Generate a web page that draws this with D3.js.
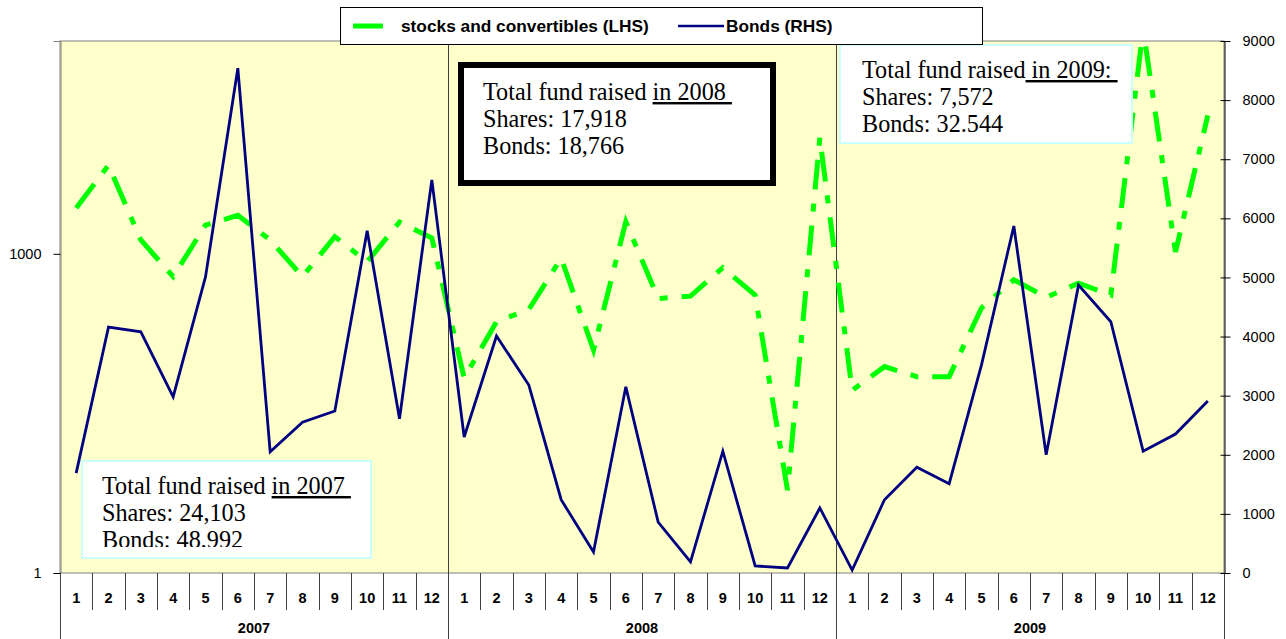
<!DOCTYPE html>
<html>
<head>
<meta charset="utf-8">
<script src="https://cdn.jsdelivr.net/npm/d3@7"></script>
<style>
  body { margin: 0; background: #fff; }
  svg text { font-family: "Liberation Sans", Arial, sans-serif; }
  .box text { font-family: "Liberation Serif", "Times New Roman", serif; font-size: 24.2px; fill: #000; }
</style>
</head>
<body>
<div id="container"></div>
<script>
/* DATA */
const years = ["2007", "2008", "2009"]
const months = ["1","2","3","4","5","6","7","8","9","10","11","12"]

// stocks and convertibles, left log axis
const stocks = [
  2700, 6800, 1350, 610, 1860, 2300, 1350, 610, 1450, 840, 1990, 1410,
  68, 230, 300, 910, 125, 2000, 380, 400, 740, 410, 6, 12300,
  52, 87, 70, 70, 310, 570, 390, 530, 410, 130000, 1040, 20000
]
// bonds, right linear axis
const bonds = [
  1690, 4160, 4080, 2980, 5010, 8540, 2050, 2550, 2740, 5790, 2610, 6650,
  2300, 4010, 3180, 1240, 355, 3150, 860, 190, 2060, 120, 85, 1100,
  50, 1240, 1790, 1510, 3520, 5870, 2000, 4870, 4250, 2060, 2350, 2910
]
const leftTicks = [1, 1000]
const rightTicks = [0, 1000, 2000, 3000, 4000, 5000, 6000, 7000, 8000, 9000]

const notes = [
  { year: "2007", lead: "Total fund raised ", under: "in 2007 ", shares: "Shares: 24,103", bonds: "Bonds: 48,992" },
  { year: "2008", lead: "Total fund raised ", under: "in 2008 ", shares: "Shares: 17,918", bonds: "Bonds: 18,766" },
  { year: "2009", lead: "Total fund raised", under: " in 2009: ", shares: "Shares: 7,572", bonds: "Bonds: 32.544" }
]

/* CONSTANTS */
const width = 1286, height = 639
const margin = { top: 41, bottom: 66, left: 60, right: 62 }
const plotW = width - margin.left - margin.right
const plotH = height - margin.top - margin.bottom

const keys = []
years.forEach(y => months.forEach(m => keys.push(y + "-" + m)))

/* SCALES */
const xScale = d3.scaleBand().domain(keys).range([margin.left, width - margin.right])
const xYear = d3.scaleBand().domain(years).range([margin.left, width - margin.right])
const yLeft = d3.scaleLog().domain([1, 100000]).range([height - margin.bottom, margin.top])
const yRight = d3.scaleLinear().domain([0, 9000]).range([height - margin.bottom, margin.top])

const svg = d3.select("#container").append("svg")
  .attr("width", width).attr("height", height)

/* PLOT AREA */
svg.append("rect")
  .attr("x", margin.left).attr("y", margin.top)
  .attr("width", plotW).attr("height", plotH)
  .attr("fill", "#ffffcc").attr("stroke", "#808080").attr("stroke-width", 1)

svg.append("clipPath").attr("id", "clip")
  .append("rect")
  .attr("x", margin.left).attr("y", margin.top)
  .attr("width", plotW).attr("height", plotH)

/* year separators through plot and category axis */
svg.selectAll(".ysep")
  .data(years.slice(1))
  .join("line")
  .attr("class", "ysep")
  .attr("x1", d => Math.round(xYear(d)) + 0.5).attr("x2", d => Math.round(xYear(d)) + 0.5)
  .attr("y1", margin.top).attr("y2", height)
  .attr("stroke", "#404040").attr("stroke-width", 1)

/* BOTTOM AXIS (two levels) */
const base = height - margin.bottom
svg.selectAll(".msep")
  .data(keys.filter((k, i) => i % 12 !== 0))
  .join("line")
  .attr("class", "msep")
  .attr("x1", d => Math.round(xScale(d)) + 0.5).attr("x2", d => Math.round(xScale(d)) + 0.5)
  .attr("y1", base).attr("y2", base + 37)
  .attr("stroke", "#404040")

svg.selectAll(".yedge")
  .data([margin.left, width - margin.right])
  .join("line")
  .attr("class", "yedge")
  .attr("x1", d => d + 0.5).attr("x2", d => d + 0.5)
  .attr("y1", base).attr("y2", height)
  .attr("stroke", "#404040")

svg.selectAll(".mlab")
  .data(keys)
  .join("text")
  .attr("class", "mlab")
  .attr("x", d => xScale(d) + xScale.bandwidth() / 2)
  .attr("y", base + 30)
  .attr("text-anchor", "middle")
  .style("font-size", "14.5px").style("font-weight", "bold")
  .text(d => d.split("-")[1])

svg.selectAll(".ylab")
  .data(years)
  .join("text")
  .attr("class", "ylab")
  .attr("x", d => xYear(d) + xYear.bandwidth() / 2)
  .attr("y", base + 60)
  .attr("text-anchor", "middle")
  .style("font-size", "14.5px").style("font-weight", "bold")
  .text(d => d)

/* LEFT AXIS (log) */
const leftAxis = d3.axisLeft(yLeft).tickValues(leftTicks).tickFormat(d3.format("d")).tickSize(7).tickPadding(12)
const gl = svg.append("g")
  .attr("transform", `translate(${margin.left + 0.5},0)`)
  .call(leftAxis)
gl.select(".domain").attr("stroke", "#808080")
gl.selectAll("text").style("font-size", "14.5px").style("font-family", "Liberation Sans, Arial")

/* RIGHT AXIS (linear) */
const rightAxis = d3.axisRight(yRight).tickValues(rightTicks).tickFormat(d3.format("d"))
  .tickSizeInner(6).tickSizeOuter(0).tickPadding(12)
const gr = svg.append("g")
  .attr("transform", `translate(${width - margin.right + 0.5},0)`)
  .call(rightAxis)
gr.select(".domain").attr("stroke", "#000")
gr.selectAll(".tick line").attr("x1", -4)
gr.selectAll("text").style("font-size", "14.5px").style("font-family", "Liberation Sans, Arial")

/* LINES */
const cx = (d, i) => xScale(keys[i]) + xScale.bandwidth() / 2
const lineStocks = d3.line().x(cx).y(d => yLeft(d))
const lineBonds = d3.line().x(cx).y(d => yRight(d))

const lines = svg.append("g").attr("clip-path", "url(#clip)")
lines.append("path")
  .attr("d", lineStocks(stocks))
  .attr("fill", "none").attr("stroke", "#00ff00")
  .attr("stroke-width", 5)
  .attr("stroke-dasharray", "30,14,8,14")
lines.append("path")
  .attr("d", lineBonds(bonds))
  .attr("fill", "none").attr("stroke", "#000080")
  .attr("stroke-width", 2.8).attr("stroke-linejoin", "miter")

/* TEXT BOXES */
const boxes = [
  { x: 82, y: 461, w: 289, h: 97, clipH: 86, stroke: "#ccffff", sw: 2, tx: 102, ty: 494 },
  { x: 461, y: 65, w: 312, h: 118, clipH: 118, stroke: "#000", sw: 6, tx: 483, ty: 100 },
  { x: 840, y: 45, w: 292, h: 98, clipH: 98, stroke: "#ccffff", sw: 2, tx: 862, ty: 78 }
]
notes.forEach((n, i) => {
  const b = boxes[i]
  const g = svg.append("g").attr("class", "box")
  g.append("clipPath").attr("id", "bclip" + i)
    .append("rect").attr("x", b.x).attr("y", b.y).attr("width", b.w).attr("height", b.clipH)
  g.append("rect")
    .attr("x", b.x).attr("y", b.y).attr("width", b.w).attr("height", b.h)
    .attr("fill", "#fff").attr("stroke", b.stroke).attr("stroke-width", b.sw)
  const tg = g.append("g").attr("clip-path", `url(#bclip${i})`)
  const t1 = tg.append("text").attr("x", b.tx).attr("y", b.ty).attr("xml:space", "preserve")
  t1.append("tspan").text(n.lead)
  t1.append("tspan").attr("text-decoration", "underline").style("text-decoration", "underline").text(n.under)
  tg.append("text").attr("x", b.tx).attr("y", b.ty + 27).text(n.shares)
  tg.append("text").attr("x", b.tx).attr("y", b.ty + 54).text(n.bonds)
})

/* LEGEND */
const lg = svg.append("g")
lg.append("rect").attr("x", 340.5).attr("y", 7.5).attr("width", 642).attr("height", 37)
  .attr("fill", "#fff").attr("stroke", "#000").attr("stroke-width", 1)
lg.append("line").attr("x1", 353).attr("x2", 383).attr("y1", 26).attr("y2", 26)
  .attr("stroke", "#00ff00").attr("stroke-width", 5)
lg.append("text").attr("x", 401).attr("y", 32)
  .style("font-size", "17.3px").style("font-weight", "bold").text("stocks and convertibles (LHS)")
lg.append("line").attr("x1", 678).attr("x2", 724).attr("y1", 26).attr("y2", 26)
  .attr("stroke", "#000080").attr("stroke-width", 2.5)
lg.append("text").attr("x", 726).attr("y", 32)
  .style("font-size", "17.3px").style("font-weight", "bold").text("Bonds (RHS)")
</script>
</body>
</html>
